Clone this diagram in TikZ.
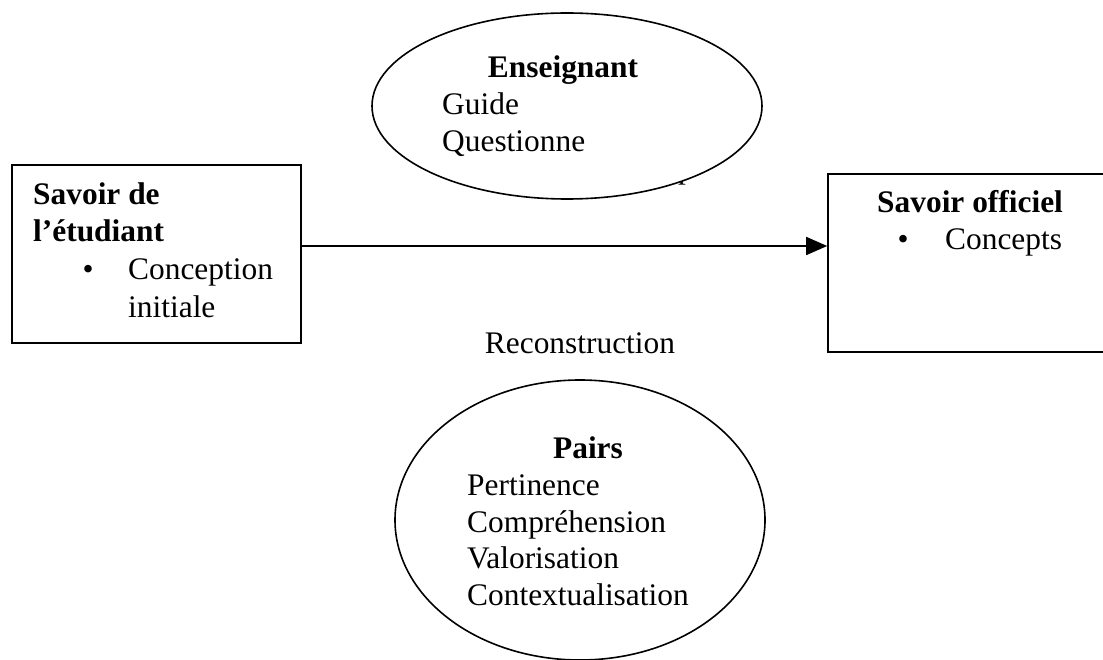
\documentclass[tikz,border=0pt]{standalone}
\usepackage{fontspec}
\setmainfont{Liberation Serif}
\usetikzlibrary{shapes.geometric,arrows.meta}

\newcommand{\bodyfont}{\fontsize{31.4pt}{37pt}\selectfont}

\tikzset{
  box/.style={draw, line width=1.6pt, rectangle, inner sep=0pt},
  bubble/.style={draw, line width=1.6pt, ellipse, fill=white, inner sep=0pt},
  txt/.style={inner sep=0pt, anchor=base west, font=\bodyfont},
  ctxt/.style={inner sep=0pt, anchor=base, font=\bodyfont},
  heavy/.style={font=\bodyfont\bfseries},
  flow/.style={line width=1.6pt, -{Triangle[length=21pt,width=18pt]}}
}

\begin{document}
\begin{tikzpicture}[x=1pt,y=-1pt]

    \useasboundingbox (0,0) rectangle (1103,660);

    % Draw the text hidden behind the top ellipse (only its p shows)
    \node[txt] (hidden) at (678,179) {p};

    % Draw the two ellipses
    \node[bubble, minimum width=390pt, minimum height=186pt] (enseignant) at (567,106) {};
    \node[bubble, minimum width=370pt, minimum height=280pt] (pairs) at (580,520) {};

    % Draw the two boxes
    \node[box, minimum width=289pt, minimum height=178pt] (etudiant) at (156.5,254) {};
    \node[box, minimum width=282pt, minimum height=178pt] (officiel) at (969,263) {};

    % Draw the arrow from one box to the other
    \draw[flow] ([yshift=8pt]etudiant.east) -- ([yshift=17pt]officiel.west);

    % Draw the text of the left box
    \node[txt, heavy] (etu1) at (33,205) {Savoir de};
    \node[txt, heavy] (etu2) at (33,242) {l’étudiant};
    \node[ctxt] (etubullet) at (88,280) {\textbullet};
    \node[txt] (etu3) at (128,280) {Conception};
    \node[txt] (etu4) at (128,317) {initiale};

    % Draw the text of the right box
    \node[txt, heavy] (off1) at (877,213) {Savoir officiel};
    \node[ctxt] (offbullet) at (903,250) {\textbullet};
    \node[txt] (off2) at (945,250) {Concepts};

    % Draw the text of the top ellipse
    \node[ctxt, heavy] (ens1) at (563,78) {Enseignant};
    \node[txt] (ens2) at (442,115) {Guide};
    \node[txt] (ens3) at (442,152) {Questionne};

    % Draw the label under the arrow
    \node[ctxt] (recon) at (580,353) {Reconstruction};

    % Draw the text of the bottom ellipse
    \node[ctxt, heavy] (pairs1) at (588,458) {Pairs};
    \node[txt] (pairs2) at (467,495) {Pertinence};
    \node[txt] (pairs3) at (467,532) {Compréhension};
    \node[txt] (pairs4) at (467,568) {Valorisation};
    \node[txt] (pairs5) at (467,605) {Contextualisation};

\end{tikzpicture}
\end{document}
